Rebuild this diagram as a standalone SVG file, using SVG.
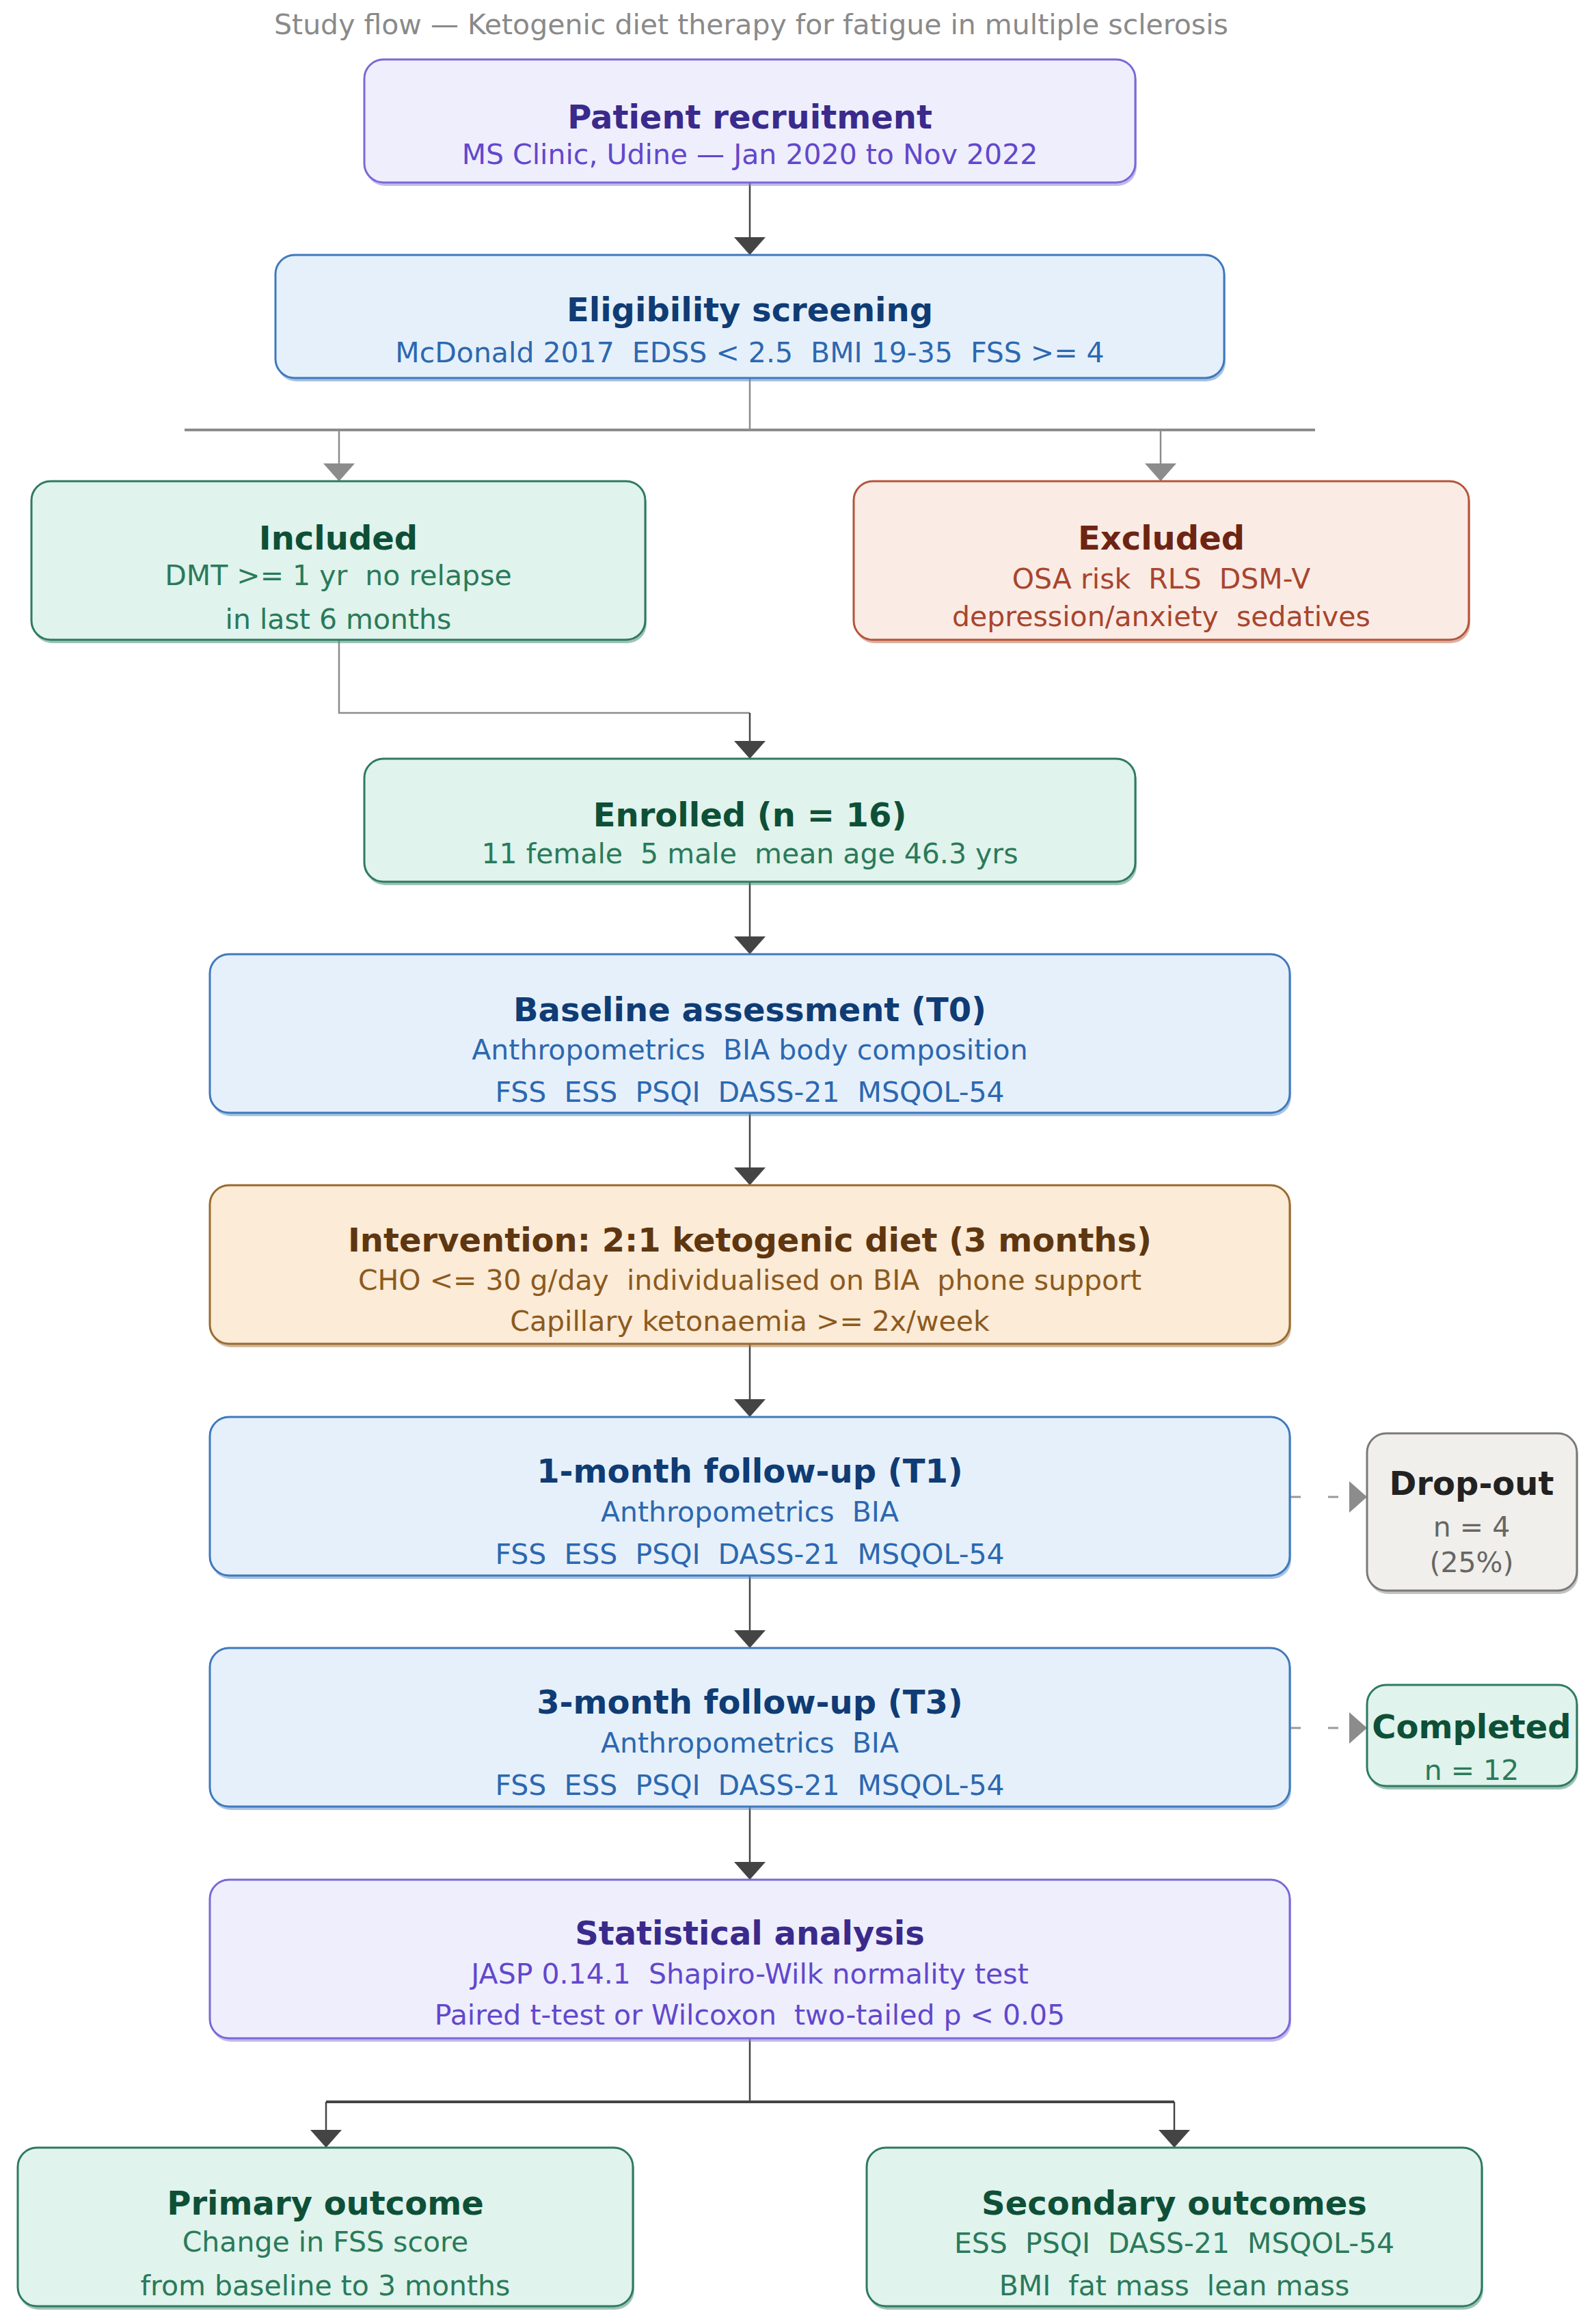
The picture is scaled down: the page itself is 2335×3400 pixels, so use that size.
<svg xmlns="http://www.w3.org/2000/svg" width="2335" height="3400" viewBox="0 0 2335 3400" xml:space="preserve">
<style>
text{font-family:"DejaVu Sans","Noto Sans",sans-serif;text-anchor:middle;white-space:pre}
.pt{font-size:41px;fill:#8a8a8a}
.t{font-size:48px;font-weight:bold}
.s{font-size:41px}
.box{stroke-width:3}
.sh{opacity:0.55}
.purple .box{fill:#efeefc;stroke:#7a69d6}.purple .sh{fill:#8f80dc}.purple .t{fill:#3a2a8c}.purple .s{fill:#6148cc}
.blue .box{fill:#e6f0fb;stroke:#3f79bc}.blue .sh{fill:#5f8fc8}.blue .t{fill:#0f3c74}.blue .s{fill:#2c68b0}
.green .box{fill:#e0f3ec;stroke:#2e7b61}.green .sh{fill:#4f9278}.green .t{fill:#0d5037}.green .s{fill:#2a7a5a}
.red .box{fill:#faebe5;stroke:#b4553b}.red .sh{fill:#c0705a}.red .t{fill:#6e2412}.red .s{fill:#a8452d}
.orange .box{fill:#fbebd7;stroke:#9a6a2e}.orange .sh{fill:#a7804e}.orange .t{fill:#5e3610}.orange .s{fill:#8c5a1e}
.gray .box{fill:#f1efeb;stroke:#7a7a7a}.gray .sh{fill:#8f8f8f}.gray .t{fill:#222222}.gray .s{fill:#666666}
.dk{stroke:#444444;stroke-width:2.5;fill:none}
.gy{stroke:#8c8c8c;stroke-width:2.5;fill:none}
.bus-gy{stroke:#8c8c8c;stroke-width:4;fill:none}
.bus-dk{stroke:#444444;stroke-width:4;fill:none}
.dash{stroke:#999999;stroke-width:3;fill:none;stroke-dasharray:15 40}
</style>
<defs>
<marker id="ad" markerUnits="userSpaceOnUse" markerWidth="26" markerHeight="46" refX="26" refY="23" orient="auto"><path d="M0,0 L26,23 L0,46 z" fill="#444444"/></marker>
<marker id="ag" markerUnits="userSpaceOnUse" markerWidth="26" markerHeight="46" refX="26" refY="23" orient="auto"><path d="M0,0 L26,23 L0,46 z" fill="#8c8c8c"/></marker>
</defs>
<rect x="0" y="0" width="2335" height="3400" fill="#ffffff"/>
<text class="pt" x="1099" y="50">Study flow — Ketogenic diet therapy for fatigue in multiple sclerosis</text>

<g id="connectors">
<line class="dk" x1="1097" y1="267" x2="1097" y2="373" marker-end="url(#ad)"/>
<line class="gy" x1="1097" y1="553" x2="1097" y2="629"/>
<line class="bus-gy" x1="270" y1="629" x2="1924" y2="629"/>
<line class="gy" x1="496" y1="629" x2="496" y2="704" marker-end="url(#ag)"/>
<line class="gy" x1="1698" y1="629" x2="1698" y2="704" marker-end="url(#ag)"/>
<path class="gy" d="M496,936 V1043 H1097"/>
<line class="dk" x1="1097" y1="1043" x2="1097" y2="1110" marker-end="url(#ad)"/>
<line class="dk" x1="1097" y1="1290" x2="1097" y2="1396" marker-end="url(#ad)"/>
<line class="dk" x1="1097" y1="1628" x2="1097" y2="1734" marker-end="url(#ad)"/>
<line class="dk" x1="1097" y1="1966" x2="1097" y2="2073" marker-end="url(#ad)"/>
<line class="dk" x1="1097" y1="2305" x2="1097" y2="2411" marker-end="url(#ad)"/>
<line class="dk" x1="1097" y1="2643" x2="1097" y2="2750" marker-end="url(#ad)"/>
<line class="dash" x1="1888" y1="2190" x2="2000" y2="2190" marker-end="url(#ag)"/>
<line class="dash" x1="1888" y1="2528" x2="2000" y2="2528" marker-end="url(#ag)"/>
<line class="dk" x1="1097" y1="2982" x2="1097" y2="3075"/>
<line class="bus-dk" x1="477" y1="3075" x2="1718" y2="3075"/>
<line class="dk" x1="477" y1="3075" x2="477" y2="3142" marker-end="url(#ad)"/>
<line class="dk" x1="1718" y1="3075" x2="1718" y2="3142" marker-end="url(#ad)"/>
</g>

<g id="recruitment" class="purple">
<rect class="sh" x="535" y="92" width="1128" height="180" rx="28"/>
<rect class="box" x="533" y="87" width="1128" height="180" rx="28"/>
<text class="t" x="1097" y="188">Patient recruitment</text>
<text class="s" x="1097" y="240">MS Clinic, Udine — Jan 2020 to Nov 2022</text>
</g>

<g id="eligibility" class="blue">
<rect class="sh" x="405" y="378" width="1388" height="180" rx="28"/>
<rect class="box" x="403" y="373" width="1388" height="180" rx="28"/>
<text class="t" x="1097" y="470">Eligibility screening</text>
<text class="s" x="1097" y="530">McDonald 2017  EDSS &lt; 2.5  BMI 19-35  FSS &gt;= 4</text>
</g>

<g id="included" class="green">
<rect class="sh" x="48" y="709" width="898" height="232" rx="28"/>
<rect class="box" x="46" y="704" width="898" height="232" rx="28"/>
<text class="t" x="495" y="804">Included</text>
<text class="s" x="495" y="856">DMT &gt;= 1 yr  no relapse</text>
<text class="s" x="495" y="920">in last 6 months</text>
</g>

<g id="excluded" class="red">
<rect class="sh" x="1251" y="709" width="900" height="232" rx="28"/>
<rect class="box" x="1249" y="704" width="900" height="232" rx="28"/>
<text class="t" x="1699" y="804">Excluded</text>
<text class="s" x="1699" y="861">OSA risk  RLS  DSM-V</text>
<text class="s" x="1699" y="916">depression/anxiety  sedatives</text>
</g>

<g id="enrolled" class="green">
<rect class="sh" x="535" y="1115" width="1128" height="180" rx="28"/>
<rect class="box" x="533" y="1110" width="1128" height="180" rx="28"/>
<text class="t" x="1097" y="1209">Enrolled (n = 16)</text>
<text class="s" x="1097" y="1263">11 female  5 male  mean age 46.3 yrs</text>
</g>

<g id="baseline" class="blue">
<rect class="sh" x="309" y="1401" width="1580" height="232" rx="28"/>
<rect class="box" x="307" y="1396" width="1580" height="232" rx="28"/>
<text class="t" x="1097" y="1494">Baseline assessment (T0)</text>
<text class="s" x="1097" y="1550">Anthropometrics  BIA body composition</text>
<text class="s" x="1097" y="1612">FSS  ESS  PSQI  DASS-21  MSQOL-54</text>
</g>

<g id="intervention" class="orange">
<rect class="sh" x="309" y="1739" width="1580" height="232" rx="28"/>
<rect class="box" x="307" y="1734" width="1580" height="232" rx="28"/>
<text class="t" x="1097" y="1831">Intervention: 2:1 ketogenic diet (3 months)</text>
<text class="s" x="1097" y="1887">CHO &lt;= 30 g/day  individualised on BIA  phone support</text>
<text class="s" x="1097" y="1947">Capillary ketonaemia &gt;= 2x/week</text>
</g>

<g id="followup1" class="blue">
<rect class="sh" x="309" y="2078" width="1580" height="232" rx="28"/>
<rect class="box" x="307" y="2073" width="1580" height="232" rx="28"/>
<text class="t" x="1097" y="2169">1-month follow-up (T1)</text>
<text class="s" x="1097" y="2226">Anthropometrics  BIA</text>
<text class="s" x="1097" y="2288">FSS  ESS  PSQI  DASS-21  MSQOL-54</text>
</g>

<g id="dropout" class="gray">
<rect class="sh" x="2002" y="2102" width="307" height="230" rx="28"/>
<rect class="box" x="2000" y="2097" width="307" height="230" rx="28"/>
<text class="t" x="2153" y="2187">Drop-out</text>
<text class="s" x="2153" y="2248">n = 4</text>
<text class="s" x="2153" y="2300">(25%)</text>
</g>

<g id="followup3" class="blue">
<rect class="sh" x="309" y="2416" width="1580" height="232" rx="28"/>
<rect class="box" x="307" y="2411" width="1580" height="232" rx="28"/>
<text class="t" x="1097" y="2507">3-month follow-up (T3)</text>
<text class="s" x="1097" y="2564">Anthropometrics  BIA</text>
<text class="s" x="1097" y="2626">FSS  ESS  PSQI  DASS-21  MSQOL-54</text>
</g>

<g id="completed" class="green">
<rect class="sh" x="2002" y="2470" width="307" height="148" rx="28"/>
<rect class="box" x="2000" y="2465" width="307" height="148" rx="28"/>
<text class="t" x="2153" y="2543">Completed</text>
<text class="s" x="2153" y="2604">n = 12</text>
</g>

<g id="statistics" class="purple">
<rect class="sh" x="309" y="2755" width="1580" height="232" rx="28"/>
<rect class="box" x="307" y="2750" width="1580" height="232" rx="28"/>
<text class="t" x="1097" y="2845">Statistical analysis</text>
<text class="s" x="1097" y="2902">JASP 0.14.1  Shapiro-Wilk normality test</text>
<text class="s" x="1097" y="2962">Paired t-test or Wilcoxon  two-tailed p &lt; 0.05</text>
</g>

<g id="primary" class="green">
<rect class="sh" x="28" y="3147" width="900" height="232" rx="28"/>
<rect class="box" x="26" y="3142" width="900" height="232" rx="28"/>
<text class="t" x="476" y="3240">Primary outcome</text>
<text class="s" x="476" y="3294">Change in FSS score</text>
<text class="s" x="476" y="3358">from baseline to 3 months</text>
</g>

<g id="secondary" class="green">
<rect class="sh" x="1270" y="3147" width="900" height="232" rx="28"/>
<rect class="box" x="1268" y="3142" width="900" height="232" rx="28"/>
<text class="t" x="1718" y="3240">Secondary outcomes</text>
<text class="s" x="1718" y="3296">ESS  PSQI  DASS-21  MSQOL-54</text>
<text class="s" x="1718" y="3358">BMI  fat mass  lean mass</text>
</g>
</svg>
